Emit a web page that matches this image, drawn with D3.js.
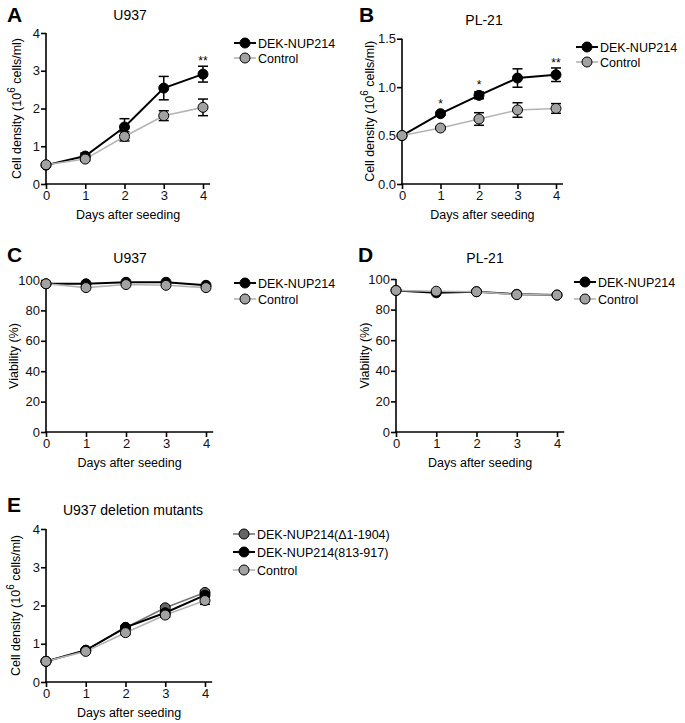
<!DOCTYPE html>
<html><head><meta charset="utf-8">
<script src="https://cdn.jsdelivr.net/npm/d3@7"></script>
<style>body{margin:0;background:#fff}svg{font-family:"Liberation Sans",Arial,Helvetica,sans-serif}</style>
</head><body><svg id="c" width="685" height="723"></svg>
<script>
const days = [0, 1, 2, 3, 4];
// Panel A – U937 cell density
const dekA = [0.50, 0.74, 1.51, 2.54, 2.91];
const dekAErr = [0, 0.08, 0.22, 0.31, 0.21];
const ctrlA = [0.51, 0.66, 1.26, 1.81, 2.03];
const ctrlAErr = [0, 0.05, 0.12, 0.13, 0.22];
const sigA = ["", "", "", "", "**"];
// Panel B – PL-21 cell density
const dekB = [0.50, 0.726, 0.915, 1.094, 1.128];
const dekBErr = [0, 0.015, 0.035, 0.095, 0.07];
const ctrlB = [0.50, 0.578, 0.671, 0.764, 0.78];
const ctrlBErr = [0, 0.015, 0.065, 0.075, 0.05];
const sigB = ["", "*", "*", "", "**"];
// Panel C – U937 viability
const dekC = [97.5, 97.5, 98.5, 98.5, 96.5];
const ctrlC = [97.5, 95.0, 97.0, 96.5, 95.0];
// Panel D – PL-21 viability
const dekD = [92.5, 91.0, 91.7, 90.0, 89.5];
const ctrlD = [92.5, 92.0, 91.7, 89.8, 89.5];
// Panel E – U937 deletion mutants
const delE = [0.54, 0.83, 1.42, 1.94, 2.34];
const delEErr = [0, 0.02, 0.03, 0.05, 0.05];
const midE = [0.54, 0.83, 1.43, 1.81, 2.27];
const midEErr = [0, 0.02, 0.03, 0.05, 0.06];
const ctrlE = [0.54, 0.80, 1.29, 1.75, 2.13];
const ctrlEErr = [0, 0.03, 0.05, 0.06, 0.10];

const densTicks = [0, 1, 2, 3, 4];
const densTicksB = [0, 0.5, 1.0, 1.5];
const viaTicks = [0, 20, 40, 60, 80, 100];

const FONT = 12.5;
const svg = d3.select("#c");

const styles = {
  dek:  {fill: "#000", line: "#000", lw: 2},
  ctrl: {fill: "#a2a2a2", line: "#b4b4b4", lw: 1.6},
  del:  {fill: "#666", line: "#777", lw: 1.6}
};

function panel(o) {
  const g = svg.append("g");
  const x = d3.scaleLinear().domain([0, 4]).range([o.x0, o.x4]);
  const y = d3.scaleLinear().domain([0, o.ymax]).range([o.yb, o.yt]);
  // axes
  const xa = g.append("g").attr("transform", `translate(0,${o.yb})`)
    .call(d3.axisBottom(x).tickValues(days).tickSize(5).tickPadding(2).tickFormat(d3.format("d")));
  xa.select(".domain").attr("d", `M${o.x0 - 1},0H${x(4.18)}`);
  const ya = g.append("g").attr("transform", `translate(${o.x0},0)`)
    .call(d3.axisLeft(y).tickValues(o.ticks).tickSize(5).tickPadding(1).tickFormat(o.fmt));
  ya.select(".domain").attr("d", `M0,${o.yt}V${o.yb}`);
  [xa, ya].forEach(a => {
    a.selectAll("path,line").attr("stroke", "#000").attr("stroke-width", 1.6);
    a.selectAll("text").attr("fill", "#111").style("font-size", "13px");
  });
  // labels
  g.append("text").attr("x", o.lx).attr("y", o.ly).style("font-size", "21px").style("font-weight", "bold").text(o.letter);
  g.append("text").attr("x", o.tx).attr("y", o.ty).attr("text-anchor", "middle").style("font-size", "14px").text(o.title);
  g.append("text").attr("x", (o.x0 + x(4.18)) / 2).attr("y", o.yb + 35).attr("text-anchor", "middle")
    .style("font-size", FONT + "px").text("Days after seeding");
  const yl = g.append("text").attr("transform", `translate(${o.ylx},${(o.yt + o.yb) / 2}) rotate(-90)`)
    .attr("text-anchor", "middle").style("font-size", FONT + "px");
  if (o.density) {
    yl.append("tspan").text("Cell density (10");
    yl.append("tspan").attr("dy", -6).style("font-size", "10px").text("6");
    yl.append("tspan").attr("dy", 6).text(" cells/ml)");
  } else {
    yl.text("Viability (%)");
  }
  // series
  const line = d3.line().x((d, i) => x(days[i])).y(d => y(d));
  o.series.forEach(s => {
    const st = styles[s.style];
    g.append("path").attr("d", line(s.values)).attr("fill", "none")
      .attr("stroke", st.line).attr("stroke-width", st.lw);
  });
  o.series.forEach(s => {
    const st = styles[s.style];
    if (s.err) {
      s.values.forEach((v, i) => {
        const e = s.err[i];
        if (!e) return;
        const cx = x(days[i]);
        const eg = g.append("g").attr("stroke", "#000").attr("stroke-width", 1.5);
        eg.append("line").attr("x1", cx).attr("x2", cx).attr("y1", y(v + e)).attr("y2", y(v - e));
        eg.append("line").attr("x1", cx - 5).attr("x2", cx + 5).attr("y1", y(v + e)).attr("y2", y(v + e));
        eg.append("line").attr("x1", cx - 5).attr("x2", cx + 5).attr("y1", y(v - e)).attr("y2", y(v - e));
      });
    }
    g.selectAll(null).data(s.values).enter().append("circle")
      .attr("cx", (d, i) => x(days[i])).attr("cy", d => y(d)).attr("r", 5)
      .attr("fill", st.fill).attr("stroke", "#000").attr("stroke-width", 1);
  });
  // significance
  if (o.sig) {
    const s = o.series[0];
    o.sig.forEach((t, i) => {
      if (!t) return;
      const top = Math.min(y(s.values[i] + (s.err ? s.err[i] : 0)), y(s.values[i]) - 5);
      g.append("text").attr("x", x(days[i])).attr("y", top - 1).attr("text-anchor", "middle")
        .style("font-size", "12px").text(t);
    });
  }
  // legend
  o.legend.forEach((l, i) => {
    const st = styles[l.style];
    const ly = o.legY + i * o.legDy;
    g.append("line").attr("x1", o.legX - 11).attr("x2", o.legX + 11).attr("y1", ly).attr("y2", ly)
      .attr("stroke", st.line).attr("stroke-width", st.lw);
    g.append("circle").attr("cx", o.legX).attr("cy", ly).attr("r", 5)
      .attr("fill", st.fill).attr("stroke", "#000").attr("stroke-width", 1);
    g.append("text").attr("x", o.legX + 13).attr("y", ly + 4.5).style("font-size", FONT + "px").text(l.name);
  });
}

panel({letter: "A", lx: 7, ly: 22, title: "U937", tx: 130, ty: 20,
  x0: 46, x4: 203, yb: 184, yt: 33, ymax: 4, ticks: densTicks, fmt: d3.format("d"), density: true, ylx: 21,
  series: [{values: dekA, err: dekAErr, style: "dek"}, {values: ctrlA, err: ctrlAErr, style: "ctrl"}],
  sig: sigA, legX: 245, legY: 43, legDy: 15,
  legend: [{name: "DEK-NUP214", style: "dek"}, {name: "Control", style: "ctrl"}]});

panel({letter: "B", lx: 359, ly: 22, title: "PL-21", tx: 484, ty: 25,
  x0: 402, x4: 556, yb: 184, yt: 38.7, ymax: 1.5, ticks: densTicksB, fmt: d3.format(".1f"), density: true, ylx: 374,
  series: [{values: dekB, err: dekBErr, style: "dek"}, {values: ctrlB, err: ctrlBErr, style: "ctrl"}],
  sig: sigB, legX: 587, legY: 47, legDy: 15,
  legend: [{name: "DEK-NUP214", style: "dek"}, {name: "Control", style: "ctrl"}]});

panel({letter: "C", lx: 7, ly: 262, title: "U937", tx: 130, ty: 263,
  x0: 46, x4: 206, yb: 432, yt: 280, ymax: 100, ticks: viaTicks, fmt: d3.format("d"), density: false, ylx: 18,
  series: [{values: dekC, style: "dek"}, {values: ctrlC, style: "ctrl"}],
  legX: 245, legY: 283, legDy: 16,
  legend: [{name: "DEK-NUP214", style: "dek"}, {name: "Control", style: "ctrl"}]});

panel({letter: "D", lx: 358, ly: 262, title: "PL-21", tx: 485, ty: 263,
  x0: 396, x4: 557, yb: 432, yt: 279, ymax: 100, ticks: viaTicks, fmt: d3.format("d"), density: false, ylx: 369,
  series: [{values: dekD, style: "dek"}, {values: ctrlD, style: "ctrl"}],
  legX: 585, legY: 282, legDy: 17,
  legend: [{name: "DEK-NUP214", style: "dek"}, {name: "Control", style: "ctrl"}]});

panel({letter: "E", lx: 7, ly: 512, title: "U937 deletion mutants", tx: 133, ty: 515,
  x0: 46, x4: 205, yb: 682, yt: 529, ymax: 4, ticks: densTicks, fmt: d3.format("d"), density: true, ylx: 20,
  series: [{values: delE, err: delEErr, style: "del"}, {values: midE, err: midEErr, style: "dek"}, {values: ctrlE, err: ctrlEErr, style: "ctrl"}],
  legX: 244, legY: 534, legDy: 18,
  legend: [{name: "DEK-NUP214(Δ1-1904)", style: "del"}, {name: "DEK-NUP214(813-917)", style: "dek"}, {name: "Control", style: "ctrl"}]});
</script></body></html>
